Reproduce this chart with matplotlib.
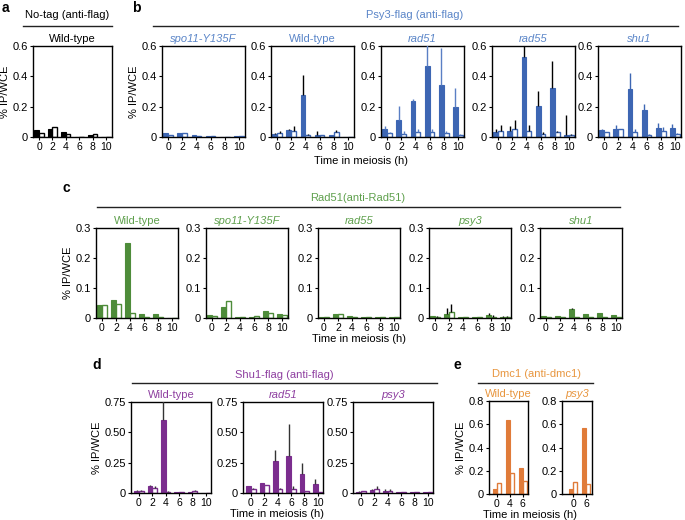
import numpy as np
import matplotlib
matplotlib.use('Agg')
import matplotlib.pyplot as plt
from matplotlib.lines import Line2D

plt.rcParams['font.family'] = ['Liberation Sans', 'DejaVu Sans']
plt.rcParams['font.size'] = 7.5

W, H = 685, 520

hours = [0, 2, 4, 6, 8, 10]

# panel a: no-tag
a_fill = [0.045, 0.05, 0.035, 0.002, 0.012, 0.0]
a_open = [0.025, 0.065, 0.02, 0.002, 0.02, 0.002]

# panel b: Psy3-flag
b_names = ['spo11-Y135F', 'Wild-type', 'rad51', 'rad55', 'shu1']
b_fill = [[0.025, 0.025, 0.012, 0.005, 0.002, 0.008],
          [0.02, 0.045, 0.28, 0.012, 0.01, 0.0],
          [0.055, 0.11, 0.235, 0.465, 0.345, 0.2],
          [0.03, 0.04, 0.53, 0.205, 0.325, 0.015],
          [0.045, 0.05, 0.315, 0.175, 0.06, 0.06]]
b_open = [[0.015, 0.025, 0.005, 0.005, 0.002, 0.005],
          [0.025, 0.04, 0.015, 0.01, 0.03, 0.0],
          [0.025, 0.02, 0.035, 0.035, 0.025, 0.015],
          [0.04, 0.055, 0.04, 0.02, 0.03, 0.01],
          [0.03, 0.05, 0.035, 0.015, 0.04, 0.02]]
b_fill_err = [[0, 0, 0, 0, 0, 0],
              [0.005, 0.01, 0.13, 0.025, 0.005, 0],
              [0.015, 0.095, 0.015, 0.16, 0.24, 0.12],
              [0.02, 0.035, 0.08, 0.095, 0.175, 0.13],
              [0.01, 0.03, 0.11, 0.045, 0.035, 0.025]]
b_open_err = [[0, 0, 0, 0, 0, 0],
              [0.015, 0.035, 0.005, 0.005, 0.015, 0],
              [0.005, 0.02, 0.015, 0.02, 0.015, 0.005],
              [0.04, 0.06, 0.04, 0.01, 0.01, 0.01],
              [0.005, 0.005, 0.015, 0.005, 0.025, 0.005]]
b_err_colors = ['#3d66b3', 'black', '#5a7fc4', 'black', '#3d66b3']

# panel c: Rad51
c_names = ['Wild-type', 'spo11-Y135F', 'rad55', 'psy3', 'shu1']
c_fill = [[0.043, 0.06, 0.25, 0.012, 0.012, 0.0],
          [0.01, 0.038, 0.003, 0.003, 0.025, 0.012],
          [0.005, 0.012, 0.008, 0.002, 0.003, 0.002],
          [0.006, 0.015, 0.002, 0.002, 0.01, 0.005],
          [0.006, 0.006, 0.03, 0.012, 0.016, 0.01]]
c_open = [[0.043, 0.048, 0.018, 0.004, 0.003, 0.0],
          [0.008, 0.057, 0.003, 0.006, 0.016, 0.01],
          [0.002, 0.015, 0.005, 0.002, 0.003, 0.003],
          [0.004, 0.02, 0.002, 0.002, 0.005, 0.005],
          [0.002, 0.003, 0.002, 0.002, 0.002, 0.003]]
c_fill_err = [[0] * 6, [0] * 6, [0] * 6,
              [0.002, 0.018, 0, 0, 0.008, 0.002],
              [0.001, 0.001, 0.002, 0.002, 0.001, 0.001]]
c_open_err = [[0] * 6, [0] * 6, [0] * 6,
              [0.002, 0.028, 0, 0, 0.005, 0.002],
              [0, 0, 0, 0, 0, 0]]

# panel d: Shu1-flag
d_names = ['Wild-type', 'rad51', 'psy3']
d_fill = [[0.02, 0.06, 0.6, 0.005, 0.005, 0.0],
          [0.055, 0.08, 0.265, 0.305, 0.155, 0.075],
          [0.01, 0.025, 0.02, 0.005, 0.005, 0.005]]
d_open = [[0.02, 0.045, 0.01, 0.008, 0.02, 0.002],
          [0.035, 0.065, 0.03, 0.03, 0.015, 0.005],
          [0.015, 0.035, 0.02, 0.005, 0.005, 0.005]]
d_fill_err = [[0.002, 0.005, 0.2, 0.002, 0.002, 0],
              [0.005, 0.005, 0.09, 0.265, 0.095, 0.04],
              [0.003, 0.01, 0.01, 0.002, 0.002, 0.003]]
d_open_err = [[0.002, 0.01, 0.005, 0.002, 0.002, 0],
              [0.005, 0.005, 0.01, 0.03, 0.005, 0.0],
              [0.003, 0.025, 0.01, 0.002, 0.002, 0.002]]

# panel e: Dmc1
e_names = ['Wild-type', 'psy3']
e_hours = [['0', '4', '6'], ['0', '6']]
e_fill = [[0.04, 0.635, 0.22], [0.04, 0.565]]
e_open = [[0.095, 0.18, 0.115], [0.1, 0.09]]

fig = plt.figure(figsize=(W / 100, H / 100), dpi=100)


def px_axes(x0, y0, x1, y1):
    return fig.add_axes([x0 / W, 1 - y1 / H, (x1 - x0) / W, (y1 - y0) / H])


def ftext(x, y, s, **kw):
    fig.text(x / W, 1 - y / H, s, **kw)


def hline(x0, x1, y):
    fig.add_artist(Line2D([x0 / W, x1 / W], [1 - y / H, 1 - y / H],
                          color='#222222', lw=1.0, transform=fig.transFigure))


def style(ax, ylim, yticks, ylabels, xlim):
    ax.set_ylim(*ylim)
    ax.set_xlim(*xlim)
    ax.set_yticks(yticks)
    ax.set_yticklabels(ylabels)
    ax.tick_params(length=2, width=0.8, pad=1.5, labelsize=7.5)
    ax.tick_params(axis='y', labelsize=8)
    for s in ax.spines.values():
        s.set_linewidth(1.0)


def draw_pairs(ax, xs, fill, opn, color, ferr=None, oerr=None, ecol='black', w=0.7):
    xs = np.asarray(xs, dtype=float)
    ax.bar(xs - w / 2, fill, width=w, color=color, edgecolor=color, lw=0.8, zorder=2)
    ax.bar(xs + w / 2, opn, width=w, color='white', edgecolor=color, lw=1.0, zorder=2)
    if ferr is not None:
        ax.errorbar(xs - w / 2, fill, yerr=[np.zeros(len(xs)), ferr], fmt='none',
                    ecolor=ecol, elinewidth=1.0, capsize=0, zorder=3)
    if oerr is not None:
        ax.errorbar(xs + w / 2, opn, yerr=[np.zeros(len(xs)), oerr], fmt='none',
                    ecolor=ecol, elinewidth=1.0, capsize=0, zorder=3)


def subtitle(ax, name, color):
    ax.set_title(name, fontsize=8, pad=3, color=color,
                 style='normal' if name == 'Wild-type' else 'italic')


tick06 = ([0, 0.2, 0.4, 0.6], ['0', '0.2', '0.4', '0.6'])

# ---- a ----
ftext(2, 12, 'a', fontsize=10, fontweight='bold')
ftext(67, 15, 'No-tag (anti-flag)', ha='center', va='center', fontsize=8)
hline(23, 112, 26)
ax = px_axes(33, 46, 112, 137)
draw_pairs(ax, hours, a_fill, a_open, 'black')
style(ax, (0, 0.6), *tick06, (-0.9, 10.9))
ax.set_xticks(hours)
subtitle(ax, 'Wild-type', 'black')
ax.set_ylabel('% IP/WCE', labelpad=2, fontsize=8)

# ---- b ----
blue, blue_t = '#3d66b3', '#5a85c8'
ftext(132, 12, 'b', fontsize=10, fontweight='bold')
ftext(415, 15, 'Psy3-flag (anti-flag)', ha='center', va='center', color=blue_t, fontsize=8)
hline(153, 678, 26)
for i, x0 in enumerate([162, 271, 381, 492, 598]):
    ax = px_axes(x0, 46, x0 + 83, 137)
    draw_pairs(ax, hours, b_fill[i], b_open[i], blue, b_fill_err[i], b_open_err[i], b_err_colors[i])
    style(ax, (0, 0.6), *tick06, (-0.9, 10.9))
    ax.set_xticks(hours)
    subtitle(ax, b_names[i], blue_t)
    if i == 0:
        ax.set_ylabel('% IP/WCE', labelpad=2, fontsize=8)
ftext(361, 161, 'Time in meiosis (h)', ha='center', va='center', fontsize=8)

# ---- c ----
green, green_t = '#4e8c3a', '#5fa04d'
ftext(63, 192, 'c', fontsize=10, fontweight='bold')
ftext(358, 198, 'Rad51(anti-Rad51)', ha='center', va='center', color=green_t, fontsize=8)
hline(97, 620, 207)
for i, x0 in enumerate([96, 206, 318, 429, 540]):
    ax = px_axes(x0, 228, x0 + 82, 318)
    draw_pairs(ax, hours, c_fill[i], c_open[i], green, c_fill_err[i], c_open_err[i], 'black')
    style(ax, (0, 0.3), [0, 0.1, 0.2, 0.3], ['0', '0.1', '0.2', '0.3'], (-0.85, 10.85))
    ax.set_xticks(hours)
    subtitle(ax, c_names[i], green_t)
    if i == 0:
        ax.set_ylabel('% IP/WCE', labelpad=2, fontsize=8)
ftext(359, 339, 'Time in meiosis (h)', ha='center', va='center', fontsize=8)

# ---- d ----
purple, purple_t = '#7b2d8e', '#8e3fa0'
ftext(92, 369, 'd', fontsize=10, fontweight='bold')
ftext(284, 375, 'Shu1-flag (anti-flag)', ha='center', va='center', color=purple_t, fontsize=8)
hline(132, 437, 383)
for i, x0 in enumerate([131, 243, 353]):
    ax = px_axes(x0, 402, x0 + 80, 493)
    draw_pairs(ax, hours, d_fill[i], d_open[i], purple, d_fill_err[i], d_open_err[i], '#333333')
    style(ax, (0, 0.75), [0, 0.25, 0.5, 0.75], ['0', '0.25', '0.50', '0.75'], (-1.2, 10.8))
    ax.set_xticks(hours)
    subtitle(ax, d_names[i], purple_t)
    if i == 0:
        ax.set_ylabel('% IP/WCE', labelpad=2, fontsize=8)
ftext(277, 514, 'Time in meiosis (h)', ha='center', va='center', fontsize=8)

# ---- e ----
orange, orange_t = '#e07b39', '#e8963f'
ftext(454, 369, 'e', fontsize=10, fontweight='bold')
ftext(536, 374, 'Dmc1 (anti-dmc1)', ha='center', va='center', color=orange_t, fontsize=8)
hline(478, 593, 383)
e_boxes = [(489, 528, (-0.6, 2.4)), (562, 592, (-0.85, 1.46))]
for i, (x0, x1, xl) in enumerate(e_boxes):
    ax = px_axes(x0, 401, x1, 494)
    pos = np.arange(len(e_hours[i]))
    draw_pairs(ax, pos, e_fill[i], e_open[i], orange, w=0.3)
    style(ax, (0, 0.8), [0, 0.2, 0.4, 0.6, 0.8], ['0', '0.2', '0.4', '0.6', '0.8'], xl)
    ax.set_xticks(pos)
    ax.set_xticklabels(e_hours[i])
    subtitle(ax, e_names[i], orange_t)
    if i == 0:
        ax.set_ylabel('% IP/WCE', labelpad=2, fontsize=8)
ftext(530, 515, 'Time in meiosis (h)', ha='center', va='center', fontsize=8)

fig.savefig('out.png', dpi=100)
